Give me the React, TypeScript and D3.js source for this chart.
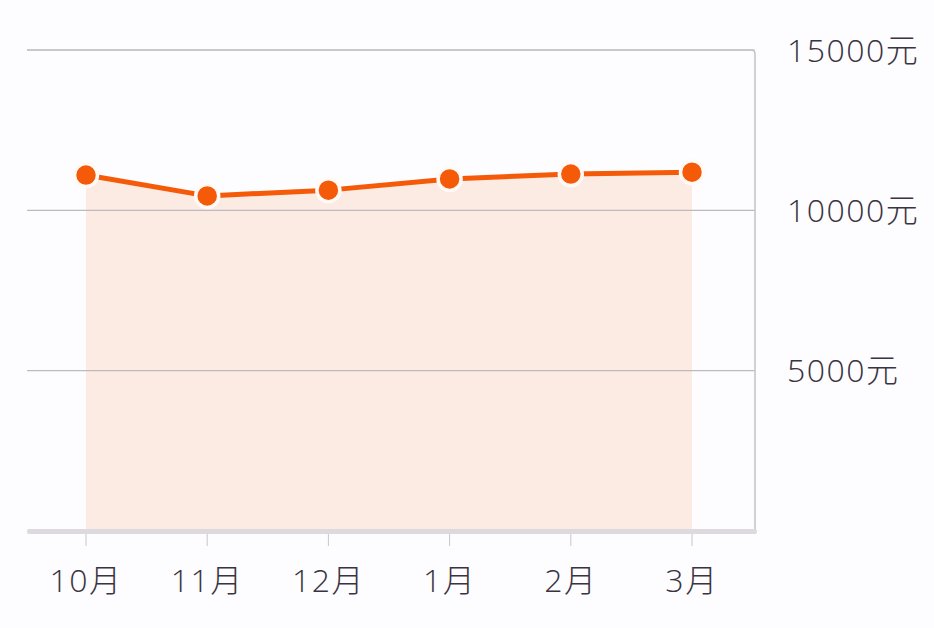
import * as d3 from 'd3'

const months = ['10月', '11月', '12月', '1月', '2月', '3月']
const values = [11100, 10450, 10630, 10980, 11130, 11190]
const yTicks = [5000, 10000, 15000]

const W = 934
const H = 628
const ORANGE = '#f45a08'
const TEXT = '#3a3340'

export default function App() {
  const x = d3.scalePoint<string>().domain(months).range([86, 692])
  const y = d3.scaleLinear().domain([0, 15000]).range([531, 50])

  const left = 27
  const right = 755

  const area = d3.area<number>()
    .x((_, i) => x(months[i])!)
    .y0(y(0))
    .y1((d) => y(d))
  const line = d3.line<number>()
    .x((_, i) => x(months[i])!)
    .y((d) => y(d))

  const font = '"Open Sans", "Noto Sans CJK SC", sans-serif'

  return (
    <svg
      width={W}
      height={H}
      viewBox={`0 0 ${W} ${H}`}
      style={{position: 'absolute', left: 0, top: 0}}
    >
      <rect width={W} height={H} fill={'#fdfcfe'} />
      <path d={area(values) ?? undefined} fill={'#fcebe3'} />
      {yTicks.map((t) => (
        <line key={t} x1={left} x2={right} y1={y(t)} y2={y(t)} stroke={'#bdb9bf'} strokeWidth={1.2} />
      ))}
      <path
        d={`M${left},${y(15000)}H${right - 4}Q${right},${y(15000)} ${right},${y(15000) + 4}V${y(0)}`}
        fill={'none'}
        stroke={'#c4c1c7'}
        strokeWidth={1.5}
      />
      <rect x={left} y={y(0) - 2} width={right - left + 2} height={5} rx={2} fill={'#dcdadf'} />
      {months.map((m) => (
        <line key={m} x1={x(m)} x2={x(m)} y1={y(0) + 3} y2={y(0) + 15} stroke={'#c9c6cc'} strokeWidth={1} />
      ))}
      <path d={line(values) ?? undefined} fill={'none'} stroke={ORANGE} strokeWidth={5} strokeLinejoin={'round'} />
      {values.map((v, i) => (
        <circle key={i} cx={x(months[i])} cy={y(v)} r={11.5} fill={ORANGE} stroke={'#fffaf6'} strokeWidth={3.5} />
      ))}
      <g fontFamily={font} fill={TEXT} fontSize={32} fontWeight={300} letterSpacing={1.5}>
        {yTicks.map((t) => (
          <text key={t} x={787} y={y(t)} dy={'0.36em'}>
            {`${t}元`}
          </text>
        ))}
        {months.map((m) => (
          <text key={m} x={x(m)} y={592} textAnchor={'middle'}>
            {m}
          </text>
        ))}
      </g>
    </svg>
  )
}
